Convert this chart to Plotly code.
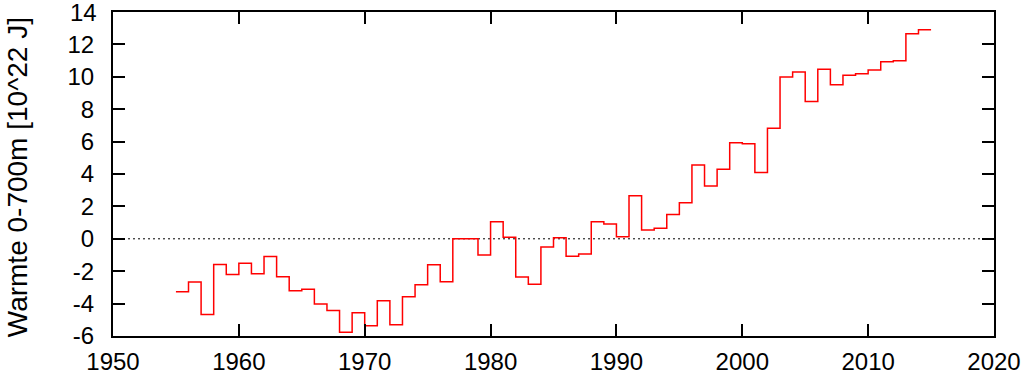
import plotly.graph_objects as go

years = list(range(1955, 2015))
heat = [-3.27, -2.67, -4.68, -1.58, -2.21, -1.51, -2.15, -1.10, -2.34, -3.20,
        -3.12, -4.02, -4.42, -5.77, -4.56, -5.36, -3.83, -5.30, -3.57, -2.83,
        -1.60, -2.65, 0.00, 0.01, -1.00, 1.06, 0.09, -2.36, -2.81, -0.51,
        0.07, -1.08, -0.94, 1.06, 0.91, 0.13, 2.66, 0.54, 0.65, 1.50,
        2.23, 4.55, 3.26, 4.30, 5.93, 5.87, 4.10, 6.82, 9.99, 10.30,
        8.47, 10.46, 9.51, 10.09, 10.19, 10.42, 10.93, 10.99, 12.66, 12.91]
x_ticks = [1950, 1960, 1970, 1980, 1990, 2000, 2010, 2020]
y_ticks = [-6, -4, -2, 0, 2, 4, 6, 8, 10, 12, 14]
y_title = "Warmte 0-700m [10^22 J]"

# step edges: each value spans [year, year+1]
xs = years + [years[-1] + 1]
ys = heat + [heat[-1]]

font = "Liberation Sans, Arial, Helvetica, sans-serif"

fig = go.Figure()
fig.add_trace(go.Scatter(x=xs, y=ys, mode="lines", line=dict(color="#ff0000", width=1.5, shape="hv"),
                         showlegend=False, hoverinfo="skip"))

fig.add_shape(type="line", xref="paper", x0=0, x1=1, yref="y", y0=0, y1=0,
              line=dict(color="black", width=1, dash="2px,3px"), layer="below")

axis_common = dict(showgrid=False, zeroline=False, showline=True, linecolor="black", linewidth=2,
                   mirror="allticks", ticks="inside", ticklen=12, tickwidth=1.5, tickcolor="black",
                   automargin=False,
                   tickfont=dict(family=font, size=24, color="black"))

fig.update_xaxes(range=[1950, 2020], tickvals=x_ticks, ticktext=[str(v) for v in x_ticks],
                 ticklabelstandoff=3, **axis_common)
# the top label would overflow the page edge and be dropped by plotly, so it is drawn as an annotation
y_text = [str(v) for v in y_ticks]
fig.update_yaxes(range=[-6, 14], tickvals=y_ticks, ticktext=y_text[:-1] + [""],
                 ticklabelstandoff=12, **axis_common)
fig.add_annotation(text=y_text[-1], xref="paper", yref="y", x=0, y=y_ticks[-1],
                   xanchor="right", yanchor="middle", xshift=-14, showarrow=False,
                   font=dict(family=font, size=24, color="black"))

fig.add_annotation(text=y_title, xref="paper", yref="paper", x=-96 / 881, y=0.49,
                   xanchor="center", yanchor="middle", textangle=-90, showarrow=False,
                   font=dict(family=font, size=28, color="black"))

fig.update_layout(width=1030, height=377, margin=dict(l=113, r=36, t=12, b=41),
                  plot_bgcolor="white", paper_bgcolor="white", font=dict(family=font))

fig.write_html("out.html", config={"displayModeBar": False},
               post_script="document.body.style.margin='0';document.body.style.overflow='hidden';")
